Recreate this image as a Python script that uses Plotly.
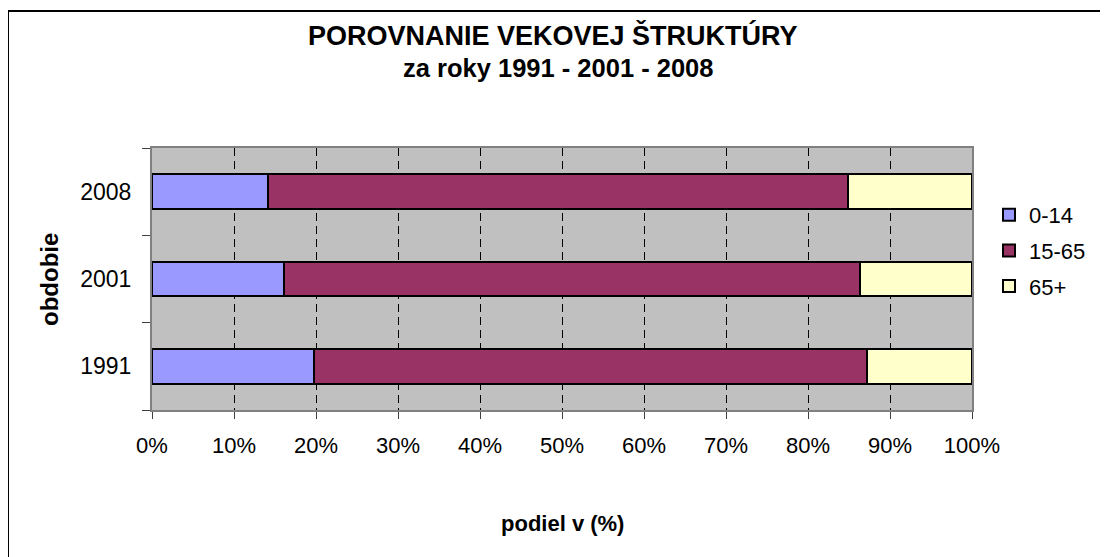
import plotly.graph_objects as go

years = ["1991", "2001", "2008"]
age_0_14 = [19.8, 16.1, 14.1]
age_15_65 = [67.4, 70.2, 70.8]
age_65_plus = [12.8, 13.7, 15.1]
series_names = ["0-14", "15-65", "65+"]
series_colors = ["#9999FF", "#993366", "#FFFFCC"]
x_ticks = list(range(0, 101, 10))
x_tick_labels = [f"{v}%" for v in x_ticks]

# The page body adds an 8px margin, so the figure is drawn 8px smaller
OFF = 8
W, H = 1108 - OFF, 557 - OFF
# plot area in page pixels
L, R, T, B = 152, 972, 148, 410
pw, ph = R - L, B - T

def px(x):
    return (x - L) / pw

def py(y):
    return (B - y) / ph

fig = go.Figure()
for name, vals, col in zip(series_names, [age_0_14, age_15_65, age_65_plus], series_colors):
    fig.add_trace(go.Bar(
        y=years, x=vals, name=name, orientation="h",
        marker=dict(color=col, line=dict(color="black", width=2)),
        legendgroup=name,
    ))

font_family = "Liberation Sans, Arial, sans-serif"

fig.update_layout(
    width=W, height=H,
    margin=dict(l=L - OFF, r=W - (R - OFF), t=T - OFF, b=H - (B - OFF), pad=0),
    paper_bgcolor="white",
    plot_bgcolor="#C0C0C0",
    barmode="stack",
    bargap=0.6,
    font=dict(family=font_family, size=22, color="black"),
    showlegend=True,
    legend=dict(
        x=px(989), xanchor="left", y=py(194), yanchor="top",
        font=dict(size=22), tracegroupgap=4,
        bgcolor="rgba(0,0,0,0)", borderwidth=0,
        traceorder="grouped",
    ),
    xaxis=dict(
        range=[0, 100], tickmode="array", tickvals=x_ticks, ticktext=x_tick_labels,
        ticks="outside", ticklen=7, tickcolor="#404040", tickwidth=1,
        showgrid=True, gridcolor="black", gridwidth=1, griddash="8px,5px",
        showline=True, linecolor="#808080", linewidth=2, mirror=True,
        zeroline=False, ticklabelstandoff=8,
        tickfont=dict(size=22),
    ),
    yaxis=dict(
        type="category", categoryorder="array", categoryarray=years,
        ticks="outside", tickson="boundaries", ticklen=8, tickcolor="#404040", tickwidth=1,
        showgrid=False,
        showline=True, linecolor="#808080", linewidth=2, mirror=True,
        ticklabelstandoff=14,
        tickfont=dict(size=23),
    ),
    annotations=[
        dict(text="<b>POROVNANIE VEKOVEJ ŠTRUKTÚRY</b>", x=px(553), y=py(36),
             xref="paper", yref="paper", xanchor="center", yanchor="middle",
             showarrow=False, font=dict(size=27)),
        dict(text="<b>za roky 1991 - 2001 - 2008</b>", x=px(558), y=py(67.5),
             xref="paper", yref="paper", xanchor="center", yanchor="middle",
             showarrow=False, font=dict(size=25.5)),
        dict(text="<b>podiel v (%)</b>", x=0.5, y=py(523), xref="paper", yref="paper",
             xanchor="center", yanchor="middle", showarrow=False, font=dict(size=22)),
        dict(text="<b>obdobie</b>", x=px(49), y=py(280), xref="paper", yref="paper",
             xanchor="center", yanchor="middle", showarrow=False, textangle=-90,
             font=dict(size=24)),
    ],
    shapes=[
        dict(type="rect", xref="paper", yref="paper",
             x0=px(8), x1=px(1120), y0=py(570), y1=py(11),
             line=dict(color="black", width=2), fillcolor="rgba(0,0,0,0)", layer="below"),
    ],
)

fig.write_html("out.html")
